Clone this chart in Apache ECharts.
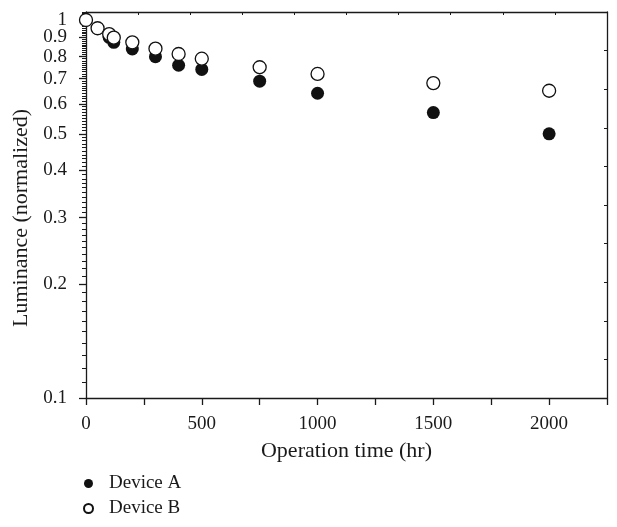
<!DOCTYPE html>
<html>
<head>
<meta charset="utf-8">
<script src="https://cdn.jsdelivr.net/npm/echarts@6/dist/echarts.min.js"></script>
<style>
html, body { margin: 0; background: #ffffff; }
#chartScatter { width: 617px; height: 527px; }
</style>
</head>
<body>
<div id="chartScatter"></div>
<script>
// operation time (hr) and normalized luminance
const hoursA = [0, 50, 100, 120, 200, 300, 400, 500, 750, 1000, 1500, 2000]
const lumA = [1.0, 0.95, 0.90, 0.873, 0.838, 0.80, 0.759, 0.74, 0.689, 0.64, 0.569, 0.50]
const hoursB = [0, 50, 100, 120, 200, 300, 400, 500, 750, 1000, 1500, 2000]
const lumB = [1.0, 0.951, 0.918, 0.898, 0.873, 0.84, 0.813, 0.79, 0.75, 0.72, 0.681, 0.65]

const yMin = 0.1
const yMax = 1.05
const yTickLabels = [0.1, 0.2, 0.3, 0.4, 0.5, 0.6, 0.7, 0.8, 0.9, 1]
const yMinorTicks = []
for (var k = 10; k <= 105; k++) yMinorTicks.push(k / 100)

const font = 'Liberation Serif'
const ink = '#1a1a1a'
const lg = (v) => Math.log10(v)

// helper for the extra left axes in log10 space (labels / ticks only)
function logSpaceAxis(tickVals, tickLen, labelVals) {
  return {
    type: 'value',
    position: 'left',
    min: lg(yMin),
    max: lg(yMax),
    axisLine: { show: false, onZero: false },
    axisTick: {
      show: tickVals.length > 0,
      inside: false,
      length: tickLen,
      customValues: tickVals.map(lg),
      lineStyle: { color: ink, width: tickLen > 5 ? 1.3 : 1 }
    },
    axisLabel: {
      show: labelVals.length > 0,
      margin: 19,
      fontFamily: font,
      fontSize: 19,
      lineHeight: 13,
      color: ink,
      hideOverlap: false,
      customValues: labelVals.map(lg),
      formatter: (v) => String(+Math.pow(10, v).toFixed(1))
    },
    splitLine: { show: false }
  }
}

const nameAxis = logSpaceAxis(yTickLabels, 7, yTickLabels.slice(0, -1))
nameAxis.name = 'Luminance (normalized)'
nameAxis.nameLocation = 'middle'
nameAxis.nameGap = 54
nameAxis.nameTextStyle = { fontFamily: font, fontSize: 22, color: ink, padding: [0, 26, 0, 0] }

var myChart = echarts.init(document.getElementById('chartScatter'))
myChart.setOption({
  animation: false,
  grid: {
    left: 86,
    right: 10,
    top: 12,
    bottom: 129,
    outerBoundsMode: 'none'
  },
  legend: {
    orient: 'vertical',
    left: 83,
    top: 474,
    padding: 0,
    itemGap: 6,
    itemWidth: 9,
    itemHeight: 9,
    icon: 'circle',
    textStyle: { fontFamily: font, fontSize: 19, lineHeight: 19, color: ink, padding: [0, 0, 0, 11] },
    data: ['Device A', 'Device B']
  },
  xAxis: [
    {
      type: 'value',
      position: 'bottom',
      min: 0,
      max: 2250,
      interval: 250,
      name: 'Operation time (hr)',
      nameLocation: 'middle',
      nameGap: 42,
      nameTextStyle: { fontFamily: font, fontSize: 22, color: ink },
      axisLine: { show: true, onZero: false, lineStyle: { color: ink, width: 1.3 } },
      axisTick: { show: true, inside: false, length: 7, lineStyle: { color: ink, width: 1.3 } },
      axisLabel: {
        margin: 17,
        fontFamily: font,
        fontSize: 19,
        color: ink,
        formatter: (v) => (v % 500 === 0 && v <= 2000 ? String(v) : '')
      },
      splitLine: { show: false }
    },
    {
      type: 'value',
      position: 'top',
      min: 0,
      max: 10,
      interval: 1,
      axisLine: { show: true, onZero: false, lineStyle: { color: ink, width: 1.3 } },
      axisTick: { show: true, inside: true, length: 3, lineStyle: { color: ink, width: 1 } },
      axisLabel: { show: false },
      splitLine: { show: false }
    }
  ],
  yAxis: [
    {
      type: 'log',
      logBase: 10,
      position: 'left',
      min: yMin,
      max: yMax,
      axisLine: { show: true, onZero: false, lineStyle: { color: ink, width: 1.3 } },
      axisTick: { show: false },
      axisLabel: { show: false },
      splitLine: { show: false }
    },
    nameAxis,
    logSpaceAxis([], 7, yTickLabels.slice(-1)),
    logSpaceAxis(yMinorTicks, 4, []),
    {
      type: 'value',
      position: 'right',
      min: 0,
      max: 10,
      interval: 1,
      axisLine: { show: true, onZero: false, lineStyle: { color: ink, width: 1.3 } },
      axisTick: { show: true, inside: true, length: 3, lineStyle: { color: ink, width: 1 } },
      axisLabel: { show: false },
      splitLine: { show: false }
    }
  ],
  series: [
    {
      name: 'Device A',
      type: 'scatter',
      xAxisIndex: 0,
      yAxisIndex: 0,
      symbol: 'circle',
      symbolSize: 13,
      itemStyle: { color: '#111111', opacity: 1 },
      data: hoursA.map((t, i) => [t, lumA[i]])
    },
    {
      name: 'Device B',
      type: 'scatter',
      xAxisIndex: 0,
      yAxisIndex: 0,
      symbol: 'circle',
      symbolSize: 13,
      itemStyle: { color: '#ffffff', borderColor: '#111111', borderWidth: 1.3, opacity: 1 },
      data: hoursB.map((t, i) => [t, lumB[i]])
    }
  ]
})
</script>
</body>
</html>
